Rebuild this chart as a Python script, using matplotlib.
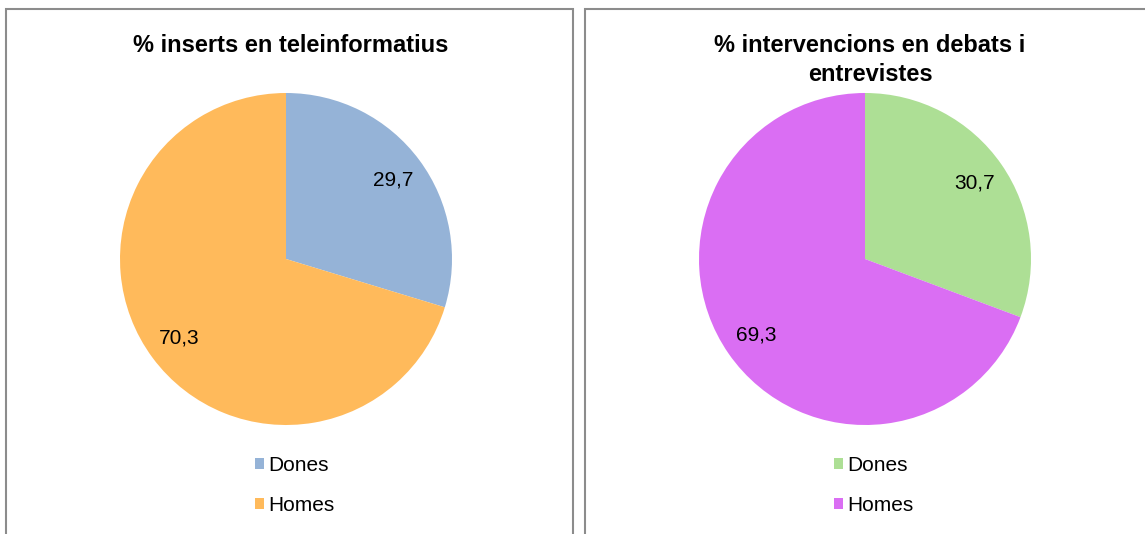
import matplotlib
matplotlib.use("Agg")
import matplotlib.pyplot as plt
from matplotlib.patches import Rectangle, Patch

plt.rcParams['font.family'] = ['Liberation Sans', 'DejaVu Sans']

categories = ["Dones", "Homes"]
inserts = [29.7, 70.3]
intervencions = [30.7, 69.3]
titles = ["% inserts en teleinformatius", "% intervencions en debats i\nentrevistes"]
colors_left = ["#95B3D7", "#FFBA5B"]
colors_right = ["#ADDF95", "#DA6EF3"]

W, H = 1145, 534
fig = plt.figure(figsize=(W / 100, H / 100), dpi=100)

# panel frames (in pixels)
for x0, x1 in [(6, 573), (585, 1200)]:
    fig.patches.append(Rectangle((x0 / W, -0.1), (x1 - x0) / W, 1.1 - 9 / H,
                                 transform=fig.transFigure, fill=False,
                                 edgecolor="#8c8c8c", linewidth=1.5))

def fmt(p):
    return f"{p:.1f}".replace(".", ",")

panels = [(286, inserts, colors_left, titles[0], 291, 45),
          (865, intervencions, colors_right, titles[1], 870, 60)]

for cx, vals, cols, title, tx, ty in panels:
    cy, r = 259, 166
    ax = fig.add_axes([(cx - r) / W, (H - cy - r) / H, 2 * r / W, 2 * r / H])
    ax.pie(vals, colors=cols, startangle=90, counterclock=False,
           autopct=fmt, pctdistance=0.8,
           textprops={'fontsize': 15, 'color': 'black'},
           wedgeprops={'linewidth': 0})
    ax.set_xlim(-1, 1)
    ax.set_ylim(-1, 1)
    fig.text(tx / W, 1 - ty / H, title, ha="center", va="center",
             fontsize=17, fontweight="bold", linespacing=1.28)
    handles = [Patch(facecolor=c, edgecolor='none') for c in cols]
    fig.legend(handles, categories, loc="center left",
               bbox_to_anchor=((cx - 31) / W, 1 - 485.5 / H),
               frameon=False, fontsize=15, handlelength=0.45, handleheight=0.45,
               handletextpad=0.2, labelspacing=1.0, borderpad=0, borderaxespad=0)

fig.savefig("out.png", dpi=100)
